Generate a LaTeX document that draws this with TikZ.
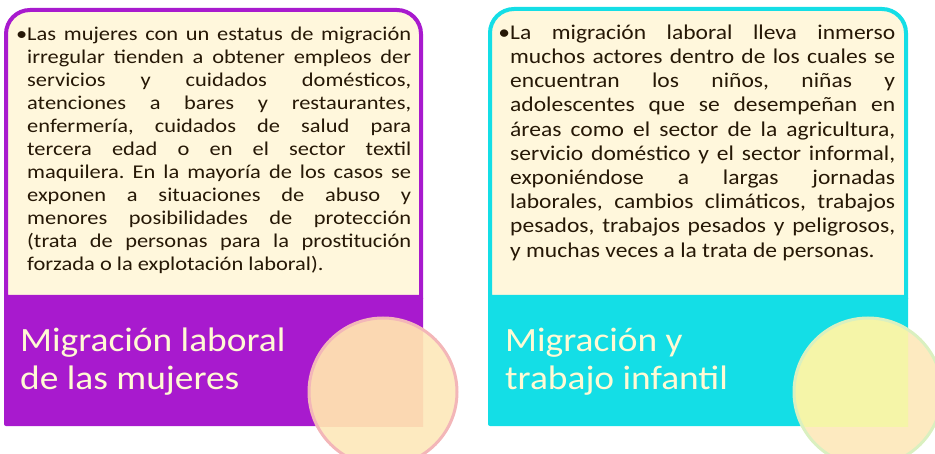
\documentclass[tikz,border=0pt]{standalone}
\usepackage{fontspec}
\setmainfont{Carlito}
\newfontfamily\anchaizq[FakeStretch=1.15]{Carlito}
\newfontfamily\anchader[FakeStretch=1.12]{Carlito}
\newfontfamily\anchatit[FakeStretch=1.1]{Carlito}
\usetikzlibrary{positioning}
\frenchspacing
\definecolor{crema}{RGB}{255,247,220}
\definecolor{violeta}{RGB}{168,26,206}
\definecolor{turquesa}{RGB}{20,222,230}
\definecolor{melocoton}{RGB}{253,234,192}
\definecolor{melocotonosc}{RGB}{251,216,178}
\definecolor{amarillo}{RGB}{245,245,168}
\definecolor{rosa}{RGB}{243,182,184}
\definecolor{verdeclaro}{RGB}{218,240,192}
\definecolor{tinta}{RGB}{38,24,6}
\definecolor{claro}{RGB}{255,250,212}

\begin{document}
\begin{tikzpicture}[x=1pt,y=-1pt]
    \tikzset{
        cuerpo/.style={anchor=base west,inner sep=0pt,align=justify,text=tinta},
        titulo/.style={anchor=base west,inner sep=0pt,align=left,text=claro,font=\anchatit\fontsize{34}{38}\selectfont},
        marco/.style={line width=4pt,fill=crema},
        banda/.style={rounded corners=2pt},
        circulo/.style={line width=3pt}
    }
    \useasboundingbox (0,0) rectangle (935,454);

    \draw[marco,draw=violeta] (6,297) -- (6,34) arc (180:270:24) -- (397,10) arc (270:360:24) -- (421,297) -- cycle;
    \fill[banda,violeta] (4,296) rectangle (423,426);
    \draw[marco,draw=turquesa] (490,297) -- (490,33) arc (180:270:24) -- (882,9) arc (270:360:24) -- (906,297) -- cycle;
    \fill[banda,turquesa] (488,296) rectangle (908,426);

    \fill[melocoton] (383,392) circle (74);
    \begin{scope}
        \clip (4,296) rectangle (423,426);
        \fill[melocotonosc] (383,392) circle (74);
    \end{scope}
    \draw[circulo,draw=rosa] (383,392) circle (74);
    \fill[melocoton] (868,392) circle (74);
    \begin{scope}
        \clip (488,296) rectangle (908,426);
        \fill[amarillo] (868,392) circle (74);
    \end{scope}
    \draw[circulo,draw=verdeclaro] (868,392) circle (74);

    \node[cuerpo,text width=384pt,font=\anchaizq\fontsize{19.5}{23}\selectfont] (mujerestexto) at (27,40.7) {\llap{\textbullet}Las mujeres con un estatus de migración\linebreak
        irregular tienden a obtener empleos der\linebreak
        servicios y cuidados domésticos,\linebreak
        atenciones a bares y restaurantes,\linebreak
        enfermería, cuidados de salud para\linebreak
        tercera edad o en el sector textil\linebreak
        maquilera. En la mayoría de los casos se\linebreak
        exponen a situaciones de abuso y\linebreak
        menores posibilidades de protección\linebreak
        (trata de personas para la prostitución\linebreak
        forzada o la explotación laboral).};
    \node[cuerpo,text width=385pt,font=\anchader\fontsize{21}{24.2}\selectfont] (infantiltexto) at (510,39.3) {\llap{\textbullet}La migración laboral lleva inmerso\linebreak
        muchos actores dentro de los cuales se\linebreak
        encuentran los niños, niñas y\linebreak
        adolescentes que se desempeñan en\linebreak
        áreas como el sector de la agricultura,\linebreak
        servicio doméstico y el sector informal,\linebreak
        exponiéndose a largas jornadas\linebreak
        laborales, cambios climáticos, trabajos\linebreak
        pesados, trabajos pesados y peligrosos,\linebreak
        y muchas veces a la trata de personas.};

    \node[titulo] (mujerestitulo) at (20,390) {Migración laboral\\de las mujeres};
    \node[titulo] (infantiltitulo) at (505,390) {Migración y\\trabajo infantil};
\end{tikzpicture}
\end{document}
